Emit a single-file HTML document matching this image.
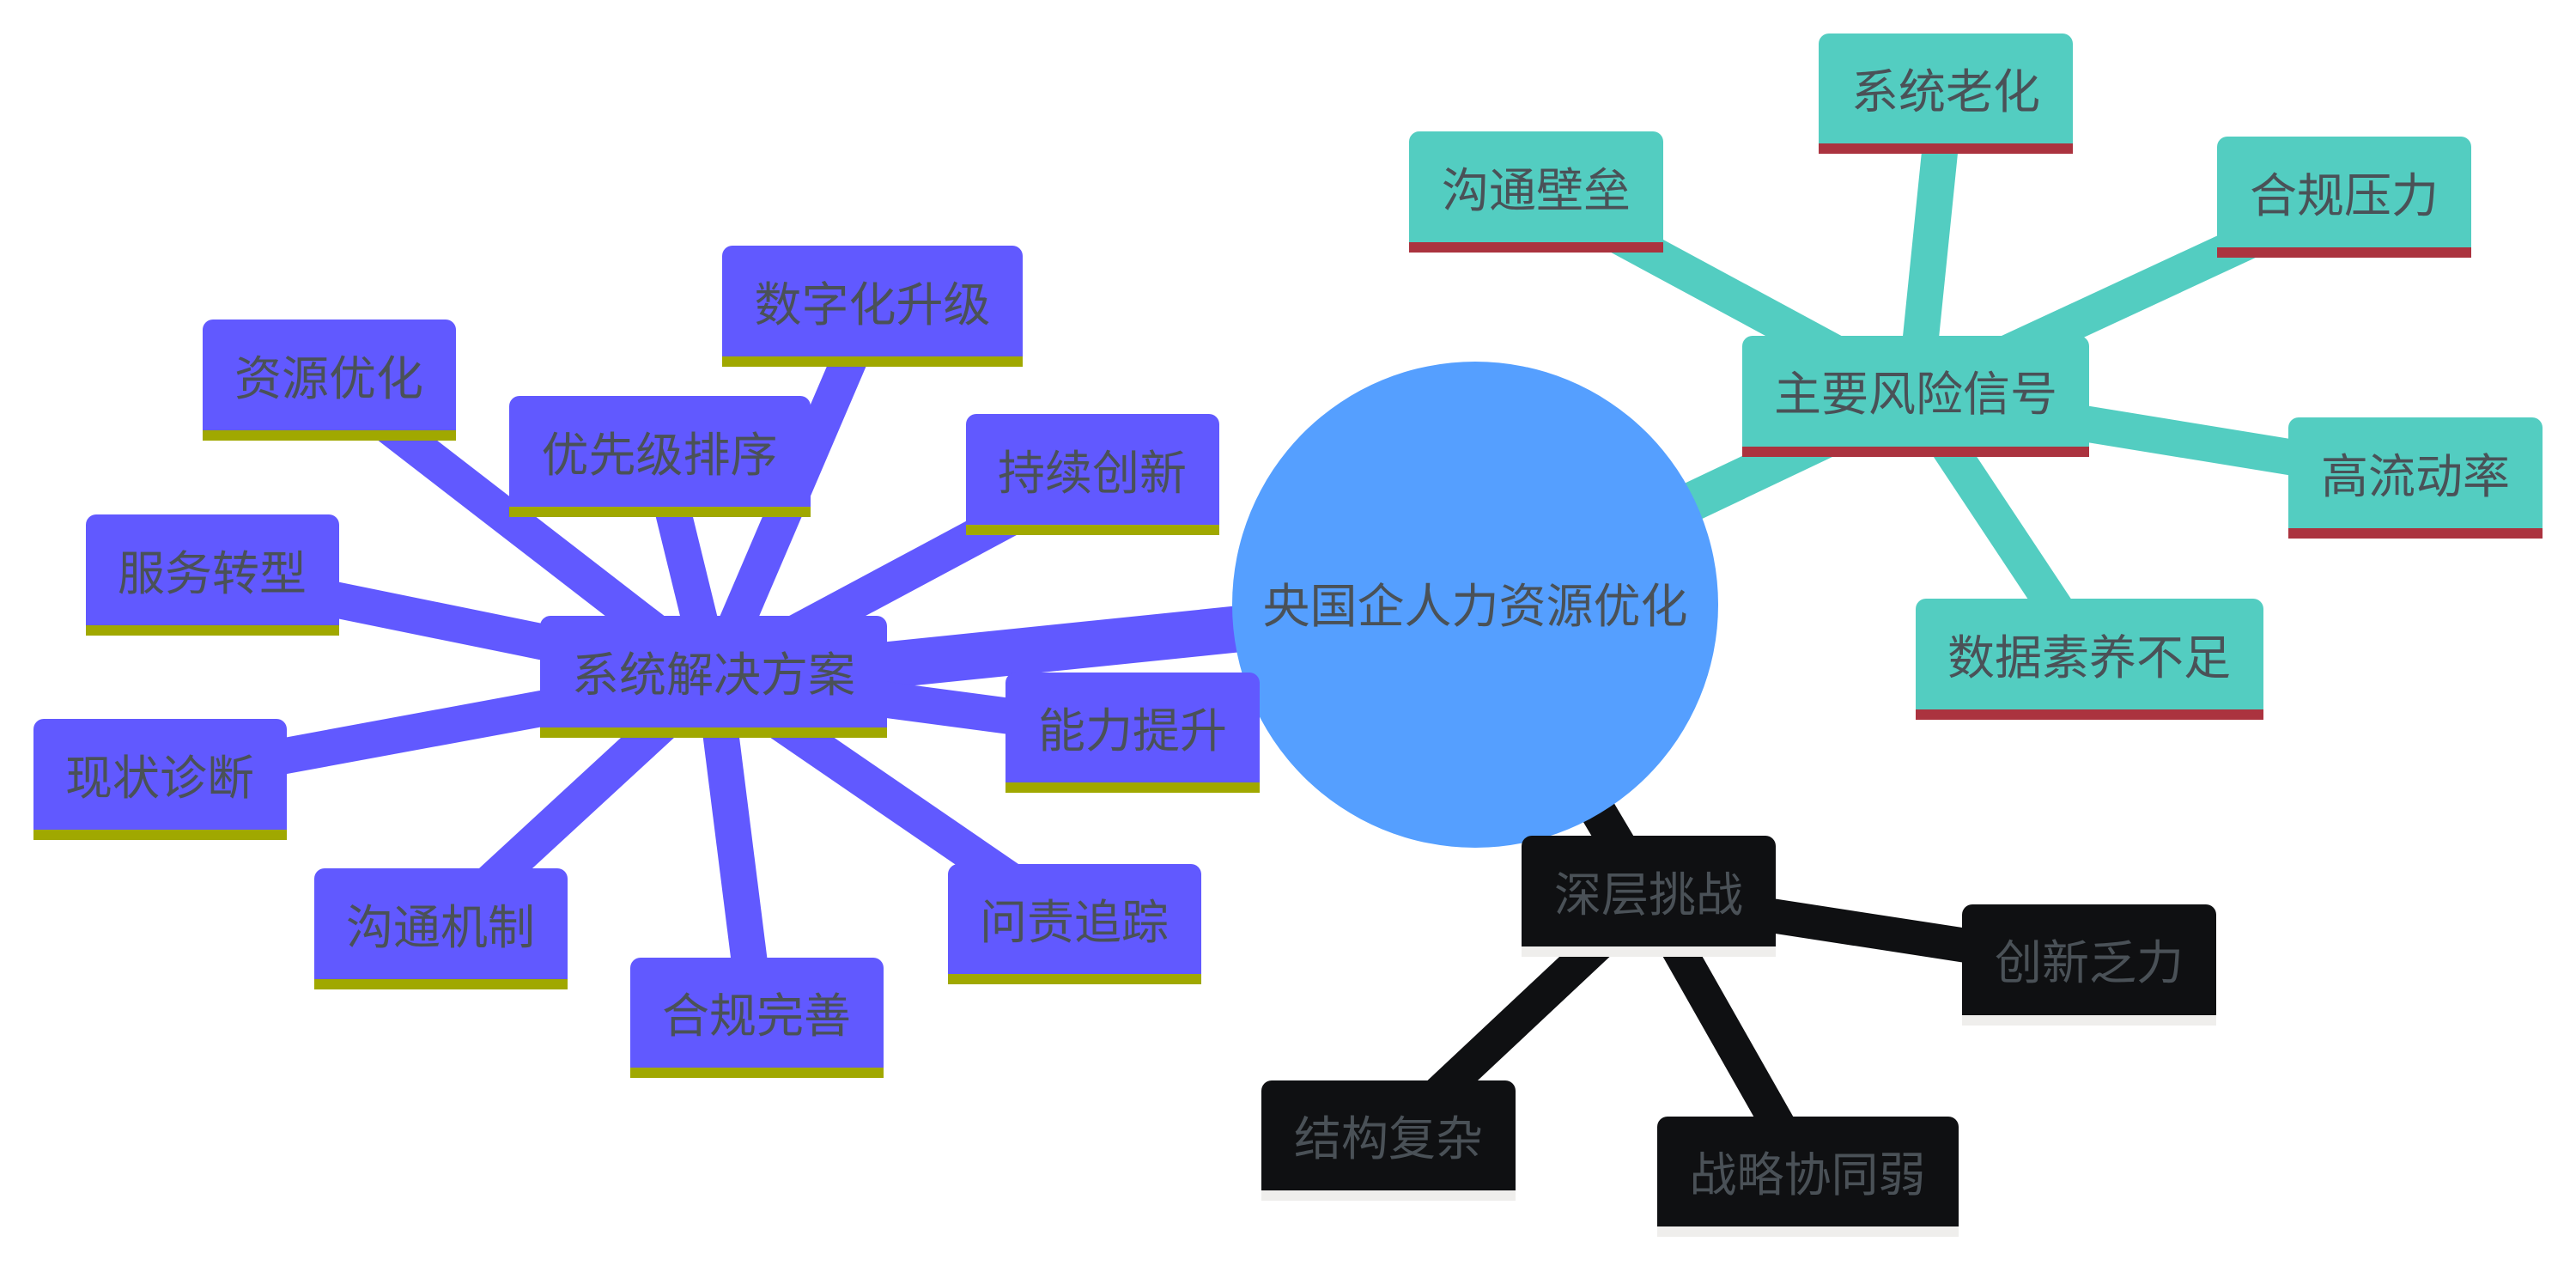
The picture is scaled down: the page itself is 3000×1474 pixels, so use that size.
<!DOCTYPE html>
<html><head><meta charset="utf-8"><style>
html,body{margin:0;padding:0;background:#fff;}
svg{display:block}
text{font-family:"Liberation Sans","Noto Sans CJK SC",sans-serif;font-size:55px;text-anchor:middle;dominant-baseline:central;}
</style></head><body>
<svg width="3000" height="1474" viewBox="0 0 3000 1474" xmlns="http://www.w3.org/2000/svg">
<g stroke-linecap="butt">
<line x1="1718" y1="704" x2="831" y2="795" stroke="#6159ff" stroke-width="54"/>
<line x1="1718" y1="704" x2="2230" y2="461" stroke="#53cdc1" stroke-width="46"/>
<line x1="1718" y1="704" x2="1920" y2="1044" stroke="#0f1012" stroke-width="42"/>
<g stroke="#6159ff" stroke-width="42">
<line x1="831" y1="788" x2="1016" y2="356"/>
<line x1="831" y1="788" x2="383" y2="442"/>
<line x1="831" y1="788" x2="768" y2="531"/>
<line x1="831" y1="788" x2="1272" y2="552"/>
<line x1="831" y1="788" x2="247" y2="669"/>
<line x1="831" y1="788" x2="1319" y2="853"/>
<line x1="831" y1="788" x2="186" y2="907"/>
<line x1="831" y1="788" x2="513" y2="1081"/>
<line x1="831" y1="788" x2="1251" y2="1076"/>
<line x1="831" y1="788" x2="881" y2="1185"/>
</g>
<g stroke="#53cdc1" stroke-width="42">
<line x1="2230" y1="461" x2="1789" y2="223"/>
<line x1="2230" y1="461" x2="2266" y2="109"/>
<line x1="2230" y1="461" x2="2730" y2="229"/>
<line x1="2230" y1="461" x2="2813" y2="556"/>
<line x1="2230" y1="461" x2="2433" y2="767"/>
</g>
<g stroke="#0f1012" stroke-width="40">
<line x1="1920" y1="1044" x2="2433" y2="1123"/>
<line x1="1920" y1="1044" x2="1617" y2="1328"/>
<line x1="1920" y1="1044" x2="2105" y2="1370"/>
</g>
</g>
<circle cx="1718" cy="704" r="283" fill="#559fff"/>
<text x="1718" y="706" fill="#4a5157">央国企人力资源优化</text>

<g>
<g fill="#6159ff">
<path d="M629,859 V729 a12,12 0 0 1 12,-12 H1021 a12,12 0 0 1 12,12 V859Z"/>
<path d="M841,427 V298 a12,12 0 0 1 12,-12 H1179 a12,12 0 0 1 12,12 V427Z"/>
<path d="M236,513 V384 a12,12 0 0 1 12,-12 H519 a12,12 0 0 1 12,12 V513Z"/>
<path d="M593,602 V473 a12,12 0 0 1 12,-12 H932 a12,12 0 0 1 12,12 V602Z"/>
<path d="M1125,623 V494 a12,12 0 0 1 12,-12 H1408 a12,12 0 0 1 12,12 V623Z"/>
<path d="M100,740 V611 a12,12 0 0 1 12,-12 H383 a12,12 0 0 1 12,12 V740Z"/>
<path d="M1171,923 V795 a12,12 0 0 1 12,-12 H1455 a12,12 0 0 1 12,12 V923Z"/>
<path d="M39,978 V849 a12,12 0 0 1 12,-12 H322 a12,12 0 0 1 12,12 V978Z"/>
<path d="M366,1152 V1023 a12,12 0 0 1 12,-12 H649 a12,12 0 0 1 12,12 V1152Z"/>
<path d="M1104,1146 V1018 a12,12 0 0 1 12,-12 H1387 a12,12 0 0 1 12,12 V1146Z"/>
<path d="M734,1255 V1127 a12,12 0 0 1 12,-12 H1017 a12,12 0 0 1 12,12 V1255Z"/>
</g>
<g fill="#a0a800">
<rect x="629" y="847" width="404" height="12"/>
<rect x="841" y="415" width="350" height="12"/>
<rect x="236" y="501" width="295" height="12"/>
<rect x="593" y="590" width="351" height="12"/>
<rect x="1125" y="611" width="295" height="12"/>
<rect x="100" y="728" width="295" height="12"/>
<rect x="1171" y="911" width="296" height="12"/>
<rect x="39" y="966" width="295" height="12"/>
<rect x="366" y="1140" width="295" height="12"/>
<rect x="1104" y="1134" width="295" height="12"/>
<rect x="734" y="1243" width="295" height="12"/>
</g>
<g fill="#4a5157">
<text x="831" y="786">系统解决方案</text>
<text x="1016" y="355">数字化升级</text>
<text x="383" y="441">资源优化</text>
<text x="768" y="530">优先级排序</text>
<text x="1272" y="551">持续创新</text>
<text x="247" y="668">服务转型</text>
<text x="1319" y="851">能力提升</text>
<text x="186" y="906">现状诊断</text>
<text x="513" y="1080">沟通机制</text>
<text x="1251" y="1074">问责追踪</text>
<text x="881" y="1183">合规完善</text>
</g>
<g fill="#53cdc1">
<path d="M2029,532 V403 a12,12 0 0 1 12,-12 H2421 a12,12 0 0 1 12,12 V532Z"/>
<path d="M1641,294 V165 a12,12 0 0 1 12,-12 H1925 a12,12 0 0 1 12,12 V294Z"/>
<path d="M2118,179 V51 a12,12 0 0 1 12,-12 H2402 a12,12 0 0 1 12,12 V179Z"/>
<path d="M2582,300 V171 a12,12 0 0 1 12,-12 H2866 a12,12 0 0 1 12,12 V300Z"/>
<path d="M2665,627 V498 a12,12 0 0 1 12,-12 H2949 a12,12 0 0 1 12,12 V627Z"/>
<path d="M2231,838 V709 a12,12 0 0 1 12,-12 H2624 a12,12 0 0 1 12,12 V838Z"/>
</g>
<g fill="#ab333f">
<rect x="2029" y="520" width="404" height="12"/>
<rect x="1641" y="282" width="296" height="12"/>
<rect x="2118" y="167" width="296" height="12"/>
<rect x="2582" y="288" width="296" height="12"/>
<rect x="2665" y="615" width="296" height="12"/>
<rect x="2231" y="826" width="405" height="12"/>
</g>
<g fill="#4a5157">
<text x="2231" y="459">主要风险信号</text>
<text x="1789" y="222">沟通壁垒</text>
<text x="2266" y="107">系统老化</text>
<text x="2730" y="228">合规压力</text>
<text x="2813" y="555">高流动率</text>
<text x="2433" y="766">数据素养不足</text>
</g>
<g fill="#0f1012">
<path d="M1772,1114 V985 a12,12 0 0 1 12,-12 H2056 a12,12 0 0 1 12,12 V1114Z"/>
<path d="M2285,1194 V1065 a12,12 0 0 1 12,-12 H2569 a12,12 0 0 1 12,12 V1194Z"/>
<path d="M1469,1398 V1270 a12,12 0 0 1 12,-12 H1753 a12,12 0 0 1 12,12 V1398Z"/>
<path d="M1930,1440 V1312 a12,12 0 0 1 12,-12 H2269 a12,12 0 0 1 12,12 V1440Z"/>
</g>
<g fill="#efeeec">
<rect x="1772" y="1102" width="296" height="12"/>
<rect x="2285" y="1182" width="296" height="12"/>
<rect x="1469" y="1386" width="296" height="12"/>
<rect x="1930" y="1428" width="351" height="12"/>
</g>
<g fill="#4a5157">
<text x="1920" y="1042">深层挑战</text>
<text x="2433" y="1121">创新乏力</text>
<text x="1617" y="1326">结构复杂</text>
<text x="2105" y="1368">战略协同弱</text>
</g>
</g>
</svg>
</body></html>
